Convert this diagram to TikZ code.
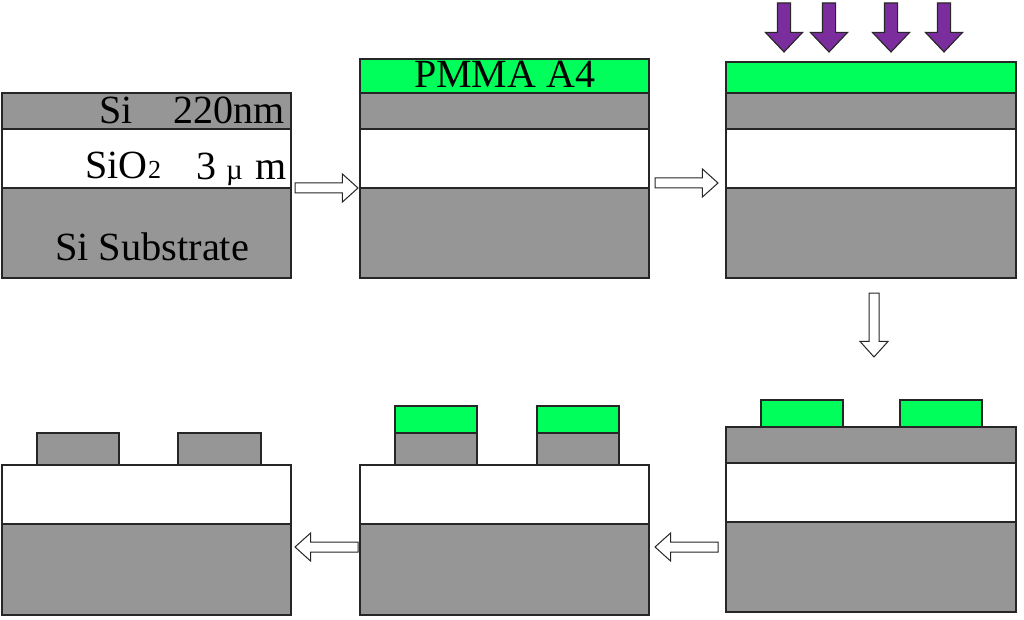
\documentclass[tikz,border=0pt]{standalone}
\usepackage{fontspec}
\setmainfont{Liberation Serif}
\usetikzlibrary{shapes.arrows}
\definecolor{sigray}{HTML}{969696}
\definecolor{pmma}{HTML}{00FF5A}
\definecolor{expo}{HTML}{7B2D9E}
\tikzset{
  layerbox/.style={draw=black!85,line width=1.2pt,inner sep=0pt,outer sep=0pt,anchor=north west},
  silayer/.style={layerbox,fill=sigray},
  oxlayer/.style={layerbox,fill=white},
  resist/.style={layerbox,fill=pmma},
  flowarrow/.style={single arrow,draw=black!85,fill=white,line width=1pt,inner xsep=0pt,inner ysep=4.5pt,outer sep=0pt,
    minimum height=63pt,single arrow head extend=9pt,single arrow tip angle=84,anchor=tail},
  beam/.style={single arrow,draw=black!85,fill=expo,line width=1.1pt,inner xsep=0pt,inner ysep=6pt,outer sep=0pt,
    minimum height=49pt,single arrow head extend=12pt,single arrow tip angle=87,
    rotate=-90,anchor=tail},
  big/.style={font=\fontsize{40}{40}\selectfont,inner sep=0pt,outer sep=0pt,anchor=base west},
  small/.style={font=\fontsize{26}{26}\selectfont,inner sep=0pt,outer sep=0pt,anchor=base west}
}
\newcommand{\lay}[6]{\node[#1,minimum width={(#5-#3)*1pt},minimum height={(#6-#4)*1pt}] (#2) at (#3,#4) {};}
\begin{document}
\begin{tikzpicture}[x=1pt,y=-1pt]
\useasboundingbox (0,0) rectangle (1024,620);
% panel 1
\lay{silayer}{aSub}{2}{188}{291}{278}
\lay{oxlayer}{aOx}{2}{129}{291}{188}
\lay{silayer}{aSi}{2}{93}{291}{129}
\node[big] (tSi) at (99,124) {Si};
\node[big] (tNm) at (173,124) {220nm};
\node[big] (tOx) at (85,179) {SiO};
\node[small] (tTwo) at (148,179) {2};
\node[big] (tThree) at (196,180) {3};
\node[small,font=\fontsize{29}{29}\selectfont] (tMu) at (226,180) {µ};
\node[big] (tM) at (255,180) {m};
\node[big,xscale=1.01] (tSub) at (55,260) {Si Substrate};
% panel 2
\lay{silayer}{bSub}{360}{188}{649}{278}
\lay{oxlayer}{bOx}{360}{129}{649}{188}
\lay{silayer}{bSi}{360}{93}{649}{129}
\lay{resist}{bRes}{360}{59}{649}{93}
\node[big] (tPmma) at (414,88) {PMMA A4};
% panel 3
\lay{silayer}{cSub}{726}{188}{1016}{278}
\lay{oxlayer}{cOx}{726}{129}{1016}{188}
\lay{silayer}{cSi}{726}{93}{1016}{129}
\lay{resist}{cRes}{726}{62}{1016}{93}
\node[beam] (e1) at (784,3) {};
\node[beam] (e2) at (829,3) {};
\node[beam] (e3) at (891,3) {};
\node[beam] (e4) at (944,3) {};
% panel 4
\lay{silayer}{dSub}{726}{522}{1016}{612}
\lay{oxlayer}{dOx}{726}{463}{1016}{522}
\lay{silayer}{dSi}{726}{427}{1016}{463}
\lay{resist}{dR1}{761}{400}{843}{427}
\lay{resist}{dR2}{900}{400}{982}{427}
% panel 5
\lay{silayer}{eSub}{360}{524}{649}{615}
\lay{oxlayer}{eOx}{360}{465}{649}{524}
\lay{silayer}{eS1}{395}{433}{477}{465}
\lay{silayer}{eS2}{537}{433}{619}{465}
\lay{resist}{eR1}{395}{406}{477}{433}
\lay{resist}{eR2}{537}{406}{619}{433}
% panel 6
\lay{silayer}{fSub}{2}{524}{291}{615}
\lay{oxlayer}{fOx}{2}{465}{291}{524}
\lay{silayer}{fS1}{37}{433}{119}{465}
\lay{silayer}{fS2}{178}{433}{261}{465}
% flow arrows
\node[flowarrow] (s1) at (295,188) {};
\node[flowarrow] (s2) at (655,183) {};
\node[flowarrow,rotate=-90,minimum height=64pt] (s3) at (874,293) {};
\node[flowarrow,rotate=180] (s4) at (718,547) {};
\node[flowarrow,rotate=180] (s5) at (358,547) {};
\end{tikzpicture}
\end{document}
